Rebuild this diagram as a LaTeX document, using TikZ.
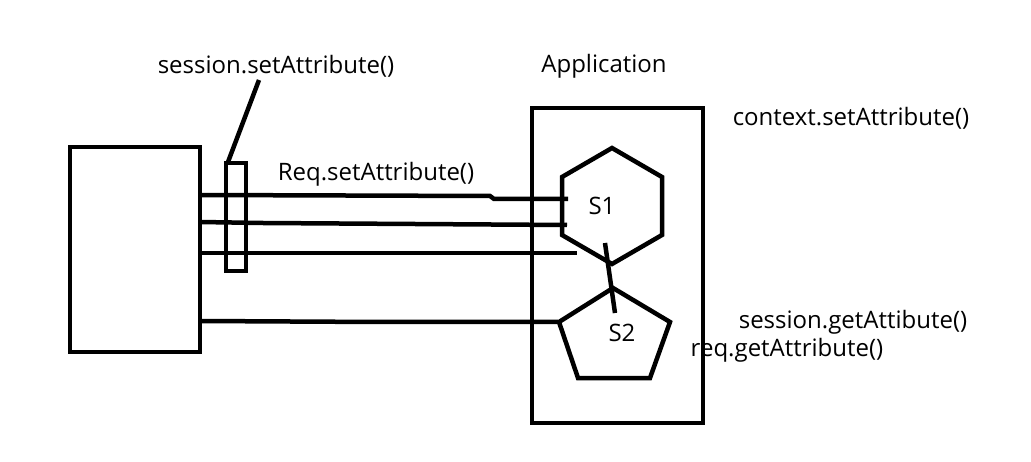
\documentclass[tikz,border=0pt]{standalone}
\usepackage{fontspec}
\setmainfont{Open Sans}

\begin{document}
\begin{tikzpicture}[x=1pt, y=-1pt, line width=4.5pt,
    lbl/.style={inner sep=0pt, font=\fontsize{24}{29}\selectfont}]

    \useasboundingbox (0,0) rectangle (1031,462);

    % constants
    \def\xend{200}

    % client box and session filter
    \draw (70,147) rectangle (\xend,352);
    \draw (226,163) rectangle (246,271);
    \coordinate (filter) at (228,162);

    % Application box
    \draw (532,108) rectangle (703,423);
    \node[lbl] (app) at (604,66) {Application};

    % servlets
    \draw (612,148) -- (662,177) -- (662,235) -- (612,264) -- (562,235) -- (562,177) -- cycle;
    \draw (613,288) -- (670,322) -- (650,378) -- (578,378) -- (559,322) -- cycle;
    \node[lbl] (s1) at (602,206) {S1};
    \node[lbl] (s2) at (622,333) {S2};

    \coordinate (s1in1) at (568,199);
    \coordinate (s1in2) at (567,225);
    \coordinate (s1in3) at (577,253);
    \coordinate (s2in) at (558,322);
    \coordinate (s1out) at (605,243);
    \coordinate (s2top) at (615,313);

    % requests
    \draw (\xend,195) -- (490,196) -- (494,199) -- (s1in1);
    \draw (\xend,222) -- (263,223) -- (s1in2);
    \draw (\xend,253) -- (s1in3);
    \draw (\xend,321) -- (380,322) -- (s2in);
    \draw (s1out) -- (s2top);

    % labels
    \node[lbl] (sset) at (276,66) {session.setAttribute()};
    \coordinate (ssettip) at (259,80);
    \draw (ssettip) -- (filter);
    \node[lbl] (rset) at (376,174) {Req.setAttribute()};
    \node[lbl] (cset) at (851,118) {context.setAttribute()};
    \node[lbl] (sget) at (853,322) {session.getAttibute()};
    \node[lbl] (rget) at (787,350) {req.getAttribute()};

\end{tikzpicture}
\end{document}
